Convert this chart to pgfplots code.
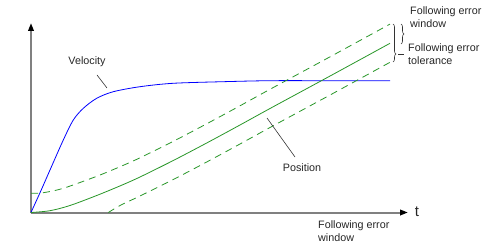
\documentclass[border=0pt]{standalone}
\usepackage{fontspec}
\setmainfont{Liberation Sans}
\usepackage{pgfplots}
\pgfplotsset{compat=1.18}
\usetikzlibrary{arrows.meta,decorations.pathreplacing}
\definecolor{vgreen}{RGB}{40,150,40}
\definecolor{axgray}{RGB}{128,128,128}
\begin{document}
\begin{tikzpicture}
\begin{axis}[
  scale only axis,
  width=377bp, height=189.5bp,
  xmin=0, xmax=377, ymin=0, ymax=189.5,
  axis lines=left,
  ticks=none,
  clip=false,
  axis line style={draw=axgray, line width=2bp, -{Triangle[length=8bp,width=5.5bp,color=black,fill=black]}},
  every axis plot/.append style={line width=0.8bp},
]
% Velocity
\addplot[blue, smooth, tension=0.5] coordinates {
 (0,0) (10,22) (19,42.5) (32.3,72.5) (42.3,92.5) (52.3,104.2) (65.7,114.2)
 (82.3,120.8) (109,125.8) (142,129.2) (192,130.8) (239,131.8) (300,131.8) (359,131.8)};
% Position (solid)
\addplot[vgreen, smooth] coordinates {
 (0,0) (19,1.8) (39,7) (65.7,17) (90,27) (109,35.5) (142.3,52) (175.7,69.5)
 (209,87.5) (239,104) (300,137) (359,169.2)};
% Upper following error limit (dashed)
\addplot[vgreen, smooth, dash pattern=on 7bp off 5bp] coordinates {
 (0,19.2) (12.3,19.8) (32.3,24.2) (65.7,36.2) (90,46.2) (109,54.7) (142.3,71.2)
 (175.7,88.7) (209,106.7) (239,123.2) (300,156.2) (359,188.4)};
% Lower following error limit (dashed)
\addplot[vgreen, smooth, dash pattern=on 7bp off 5bp] coordinates {
 (77.3,0) (90,7.5) (109,16.5) (142.3,33) (175.7,50.5) (209,68.5) (239,85) (300,118) (359,150.2)};
% annotations
\node[font=\fontsize{10.8}{13}\selectfont, text=black!85] at (axis cs:56,150.5) {Velocity};
\draw[black!80, line width=0.6bp] (axis cs:66,137.5) -- (axis cs:76,124.5);
\node[font=\fontsize{10.8}{13}\selectfont, text=black!85] at (axis cs:271,44.5) {Position};
\draw[black!80, line width=0.6bp] (axis cs:236,94.5) -- (axis cs:264,55.5);
\node[font=\fontsize{15}{16}\selectfont, text=black!85] at (axis cs:386,0.5) {t};
\node[font=\fontsize{10.8}{13}\selectfont, text=black!85, align=left, anchor=west, inner sep=0pt] at (axis cs:287,-19) {Following error\\window};
\node[font=\fontsize{10.8}{13}\selectfont, text=black!85, align=left, anchor=west, inner sep=0pt] at (axis cs:379,195) {Following error\\window};
\node[font=\fontsize{10.8}{13}\selectfont, text=black!85, align=left, anchor=west, inner sep=0pt] at (axis cs:377,158) {Following error\\tolerance};
\draw[black!80, line width=0.6bp, decorate, decoration={brace, amplitude=3bp, aspect=0.79}] (axis cs:362,188.5) -- (axis cs:362,150.5);
\draw[black!80, line width=0.6bp, decorate, decoration={brace, amplitude=3bp}] (axis cs:370,188.5) -- (axis cs:370,168.5);
\draw[black!80, line width=0.6bp] (axis cs:367,158.5) -- (axis cs:373,158.5);
\path (axis cs:-31,-35.5) rectangle (axis cs:472,212.5);
\end{axis}
\end{tikzpicture}
\end{document}
